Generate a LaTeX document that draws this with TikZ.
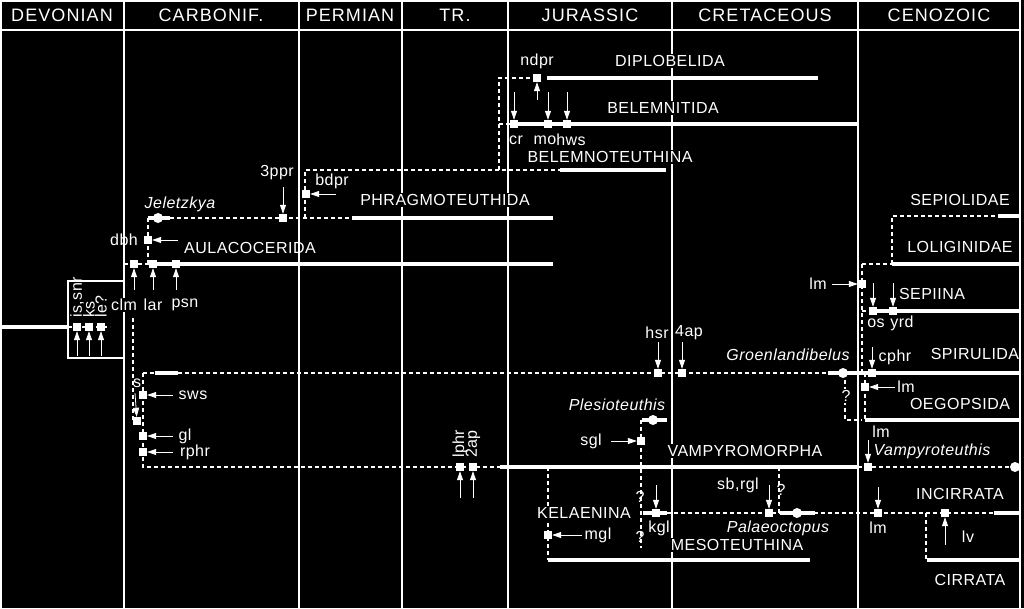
\documentclass[tikz,border=0pt]{standalone}
\usepackage{fontspec}
\setmainfont{Liberation Sans}
\usetikzlibrary{arrows.meta}
\begin{document}
\begin{tikzpicture}[x=1pt,y=-1pt,
  frame/.style={white,line width=1.1pt},
  thk/.style={white,line width=3.6pt},
  dsh/.style={white,line width=1.2pt,dash pattern=on 4pt off 3pt},
  arr/.style={white,line width=0.8pt,-{Triangle[width=6pt,length=9pt]}},
  sq/.style={fill=white,draw=none,minimum size=8pt,inner sep=0pt},
  dot/.style={circle,fill=white,draw=none,minimum size=10pt,inner sep=0pt},
  lb/.style={text=white,font=\fontsize{16}{17}\selectfont\addfontfeatures{LetterSpace=3}},
  lbf/.style={lb,fill=black,inner sep=1pt},
  it/.style={text=white,font=\fontsize{16}{17}\selectfont\itshape\addfontfeatures{LetterSpace=3}},
  hd/.style={text=white,font=\fontsize{18}{19}\selectfont\addfontfeatures{LetterSpace=6}}]
\fill[black] (0,0) rectangle (1024,608);
\useasboundingbox (0,0) rectangle (1024,608);
\tikzset{every node/.append style={inner sep=1pt}}
% frame
\draw[frame] (1,0) -- (1,608);
\draw[frame] (1020,0) -- (1020,608);
\draw[frame] (0,1) -- (1020,1);
\draw[frame] (0,30) -- (1020,30);
\foreach \x in {124,299,402,508,672,858} \draw[frame] (\x,0) -- (\x,608);
\node[hd] (h1) at (62,15) {DEVONIAN};
\node[hd] (h2) at (211,15) {CARBONIF.};
\node[hd] (h3) at (350,15) {PERMIAN};
\node[hd] (h4) at (455,15) {TR.};
\node[hd] (h5) at (590,15) {JURASSIC};
\node[hd] (h6) at (765,15) {CRETACEOUS};
\node[hd] (h7) at (939,15) {CENOZOIC};
% root and box
\draw[thk] (0,327) -- (68,327);
\fill[black] (68,281) rectangle (124,358);
\draw[frame] (68,281) rectangle (124,358);
\draw[dsh] (68,327) -- (110,327);
\node[sq] (is) at (77,327) {};
\node[sq] (ks) at (89,327) {};
\node[sq] (le) at (101,327) {};
\draw[arr] (77,356) -- (is);
\draw[arr] (89,356) -- (ks);
\draw[arr] (101,356) -- (le);
\node[lb,rotate=90,anchor=west,inner sep=0pt] (lis) at (77,318) {is,snr};
\node[lb,rotate=90,anchor=west,inner sep=0pt] (lks) at (89,318) {ks};
\node[lb,rotate=90,anchor=west,inner sep=0pt] (lle) at (101,318) {le?};
% Aulacocerida
\draw[dsh] (124,264) -- (153,264);
\draw[thk] (153,264) -- (553,264);
\draw[dsh] (148,264) -- (148,218);
\node[sq] (clm) at (134,264) {};
\node[sq] (lar) at (153,264) {};
\node[sq] (psn) at (176,264) {};
\draw[arr] (134,290) -- (clm);
\draw[arr] (153,290) -- (lar);
\draw[arr] (176,290) -- (psn);
\node[lbf] (lclm) at (124,305) {clm};
\node[lb] (llar) at (153,305) {lar};
\node[lb] (lpsn) at (185,305) {psn};
\node[sq] (dbh) at (148,240) {};
\draw[arr] (178,240) -- (dbh);
\node[lb] (ldbh) at (124,240) {dbh};
\node[lb] (laul) at (250,248) {AULACOCERIDA};
% Jeletzkya / Phragmoteuthida
\draw[thk] (148,218) -- (170,218);
\node[dot] (jel) at (158,218) {};
\node[it] (ljel) at (180,204) {Jeletzkya};
\draw[dsh] (170,218) -- (352,218);
\draw[thk] (352,218) -- (553,218);
\node[sq] (ppr) at (283,218) {};
\draw[arr] (283,187) -- (ppr);
\node[lb] (lppr) at (277,173) {3ppr};
\node[lbf] (lphr) at (445,200) {PHRAGMOTEUTHIDA};
\draw[dsh] (305,218) -- (305,170) -- (560,170);
\draw[thk] (560,170) -- (666,170);
\node[sq] (bdpr) at (306,194) {};
\draw[arr] (336,194) -- (bdpr);
\node[lb] (lbdpr) at (332,181) {bdpr};
\node[lbf] (lbth) at (610,157) {BELEMNOTEUTHINA};
% Belemnitida / Diplobelida
\draw[dsh] (499,170) -- (499,78) -- (537,78);
\draw[dsh] (499,124) -- (513,124);
\draw[thk] (547,78) -- (818,78);
\node[sq] (ndpr) at (537,78) {};
\draw[arr] (537,100) -- (ndpr);
\node[lb] (lndpr) at (537,61) {ndpr};
\node[lbf] (ldip) at (670,61) {DIPLOBELIDA};
\draw[thk] (513,124) -- (858,124);
\node[sq] (cr) at (514,124) {};
\node[sq] (mo) at (548,124) {};
\node[sq] (hws) at (567,124) {};
\draw[arr] (514,92) -- (cr);
\draw[arr] (548,92) -- (mo);
\draw[arr] (567,92) -- (hws);
\node[lb] (lcr) at (516,140) {cr};
\node[lb] (lmo) at (545,140) {mo};
\node[lb] (lhws) at (571,140) {hws};
\node[lbf] (lbel) at (663,108) {BELEMNITIDA};
% Spirulida long line
\draw[dsh] (143,373) -- (828,373);
\draw[thk] (155,373) -- (178,373);
\draw[thk] (828,373) -- (1020,373);
\node[dot] (gro) at (843,373) {};
\node[it] (lgro) at (788,355) {Groenlandibelus};
\node[sq] (hsr) at (658,373) {};
\node[sq] (ap4) at (682,373) {};
\draw[arr] (658,342) -- (hsr);
\draw[arr] (682,342) -- (ap4);
\node[lb] (lhsr) at (657,333) {hsr};
\node[lb] (lap4) at (689,333) {4ap};
% s branch
\draw[dsh] (133,318) -- (133,421);
\draw[dsh] (143,373) -- (143,467) -- (500,467);
\node[sq] (s) at (137,421) {};
\draw[arr] (135,393) -- (s);
\node[lb] (ls) at (137,383) {s};
\node[sq] (sws) at (143,395) {};
\draw[arr] (173,395) -- (sws);
\node[lb] (lsws) at (193,395) {sws};
\node[sq] (gl) at (143,436) {};
\draw[arr] (173,436) -- (gl);
\node[lb] (lgl) at (185,436) {gl};
\node[sq] (rphr) at (143,452) {};
\draw[arr] (173,452) -- (rphr);
\node[lb] (lrphr) at (195,452) {rphr};
% Vampyromorpha
\node[sq] (lphrs) at (460,467) {};
\node[sq] (ap2) at (473,467) {};
\draw[arr] (460,498) -- (lphrs);
\draw[arr] (473,498) -- (ap2);
\node[lb,rotate=90,anchor=west,inner sep=0pt] (llphr) at (460,458) {lphr};
\node[lb,rotate=90,anchor=west,inner sep=0pt] (lap2) at (473,458) {2ap};
\draw[thk] (500,467) -- (858,467);
\node[lbf] (lvam) at (745,451) {VAMPYROMORPHA};
\draw[dsh] (858,467) -- (1015,467);
\node[dot] (vam) at (1015,467) {};
\node[sq] (lmv) at (868,467) {};
\draw[arr] (868,440) -- (lmv);
\node[lb] (llmv) at (881,432) {lm};
\node[it] (lvamp) at (932,451) {Vampyroteuthis};
% Plesioteuthis
\draw[thk] (642,420) -- (667,420);
\node[dot] (ple) at (653,420) {};
\node[it] (lple) at (617,405) {Plesioteuthis};
\draw[dsh] (641,420) -- (641,548);
\node[sq] (sgl) at (641,441) {};
\draw[arr] (611,441) -- (sgl);
\node[lb] (lsgl) at (591,441) {sgl};
% Mesoteuthina / Kelaenina
\draw[dsh] (548,467) -- (548,560);
\draw[thk] (548,560) -- (810,560);
\node[sq] (mgl) at (548,535) {};
\draw[arr] (582,535) -- (mgl);
\node[lb] (lmgl) at (598,535) {mgl};
\node[lbf] (lkel) at (584,513) {KELAENINA};
\node[lb] (q1) at (640,497) {?};
\node[lb] (q2) at (640,537) {?};
\draw[dsh] (667,513) -- (994,513);
\draw[thk] (643,513) -- (667,513);
\node[sq] (kgl) at (656,513) {};
\draw[arr] (656,485) -- (kgl);
\node[lbf] (lkgl) at (659,528) {kgl};
\node[lbf] (lmes) at (737,545) {MESOTEUTHINA};
\draw[dsh] (779,467) -- (779,513);
\node[lb] (q3) at (781,490) {?};
\node[sq] (sbr) at (769,513) {};
\draw[arr] (769,485) -- (sbr);
\node[lb] (lsbr) at (738,485) {sb,rgl};
\draw[thk] (780,513) -- (815,513);
\node[dot] (pal) at (797,513) {};
\node[it] (lpal) at (778,528) {Palaeoctopus};
\node[sq] (lmi) at (878,513) {};
\draw[arr] (878,487) -- (lmi);
\node[lb] (llmi) at (878,528) {lm};
\draw[thk] (994,513) -- (1020,513);
\node[lb] (linc) at (960,494) {INCIRRATA};
\node[sq] (lv) at (945,513) {};
\draw[arr] (945,545) -- (lv);
\node[lb] (llv) at (968,537) {lv};
\draw[dsh] (926,513) -- (926,560);
\draw[thk] (927,560) -- (1020,560);
\node[lb] (lcir) at (970,580) {CIRRATA};
% Decabrachia cluster
\draw[dsh] (862,264) -- (892,264);
\draw[thk] (892,264) -- (1020,264);
\draw[dsh] (892,264) -- (892,216) -- (998,216);
\draw[thk] (998,216) -- (1020,216);
\node[lb] (lsep) at (960,200) {SEPIOLIDAE};
\node[lb] (llol) at (960,247) {LOLIGINIDAE};
\draw[dsh] (862,264) -- (862,373);
\node[sq] (lms) at (862,284) {};
\draw[arr] (832,284) -- (lms);
\node[lb] (llms) at (818,284) {lm};
\draw[dsh] (862,311) -- (873,311);
\draw[thk] (873,311) -- (1020,311);
\node[sq] (os) at (873,311) {};
\node[sq] (yrd) at (893,311) {};
\draw[arr] (873,283) -- (os);
\draw[arr] (893,283) -- (yrd);
\node[lb] (los) at (876,323) {os};
\node[lb] (lyrd) at (902,323) {yrd};
\node[lb] (lsepi) at (932,294) {SEPIINA};
\node[sq] (cphr) at (872,373) {};
\draw[arr] (872,347) -- (cphr);
\node[lb] (lcphr) at (895,357) {cphr};
\node[lb] (lspi) at (975,354) {SPIRULIDA};
\draw[dsh] (865,373) -- (865,420);
\draw[thk] (865,420) -- (1020,420);
\node[sq] (lmo2) at (865,387) {};
\draw[arr] (895,387) -- (lmo2);
\node[lb] (llmo2) at (906,387) {lm};
\node[lb] (loeg) at (960,404) {OEGOPSIDA};
\draw[dsh] (845,373) -- (845,420) -- (862,420);
\node[lbf] (q4) at (846,396) {?};
\end{tikzpicture}
\end{document}
